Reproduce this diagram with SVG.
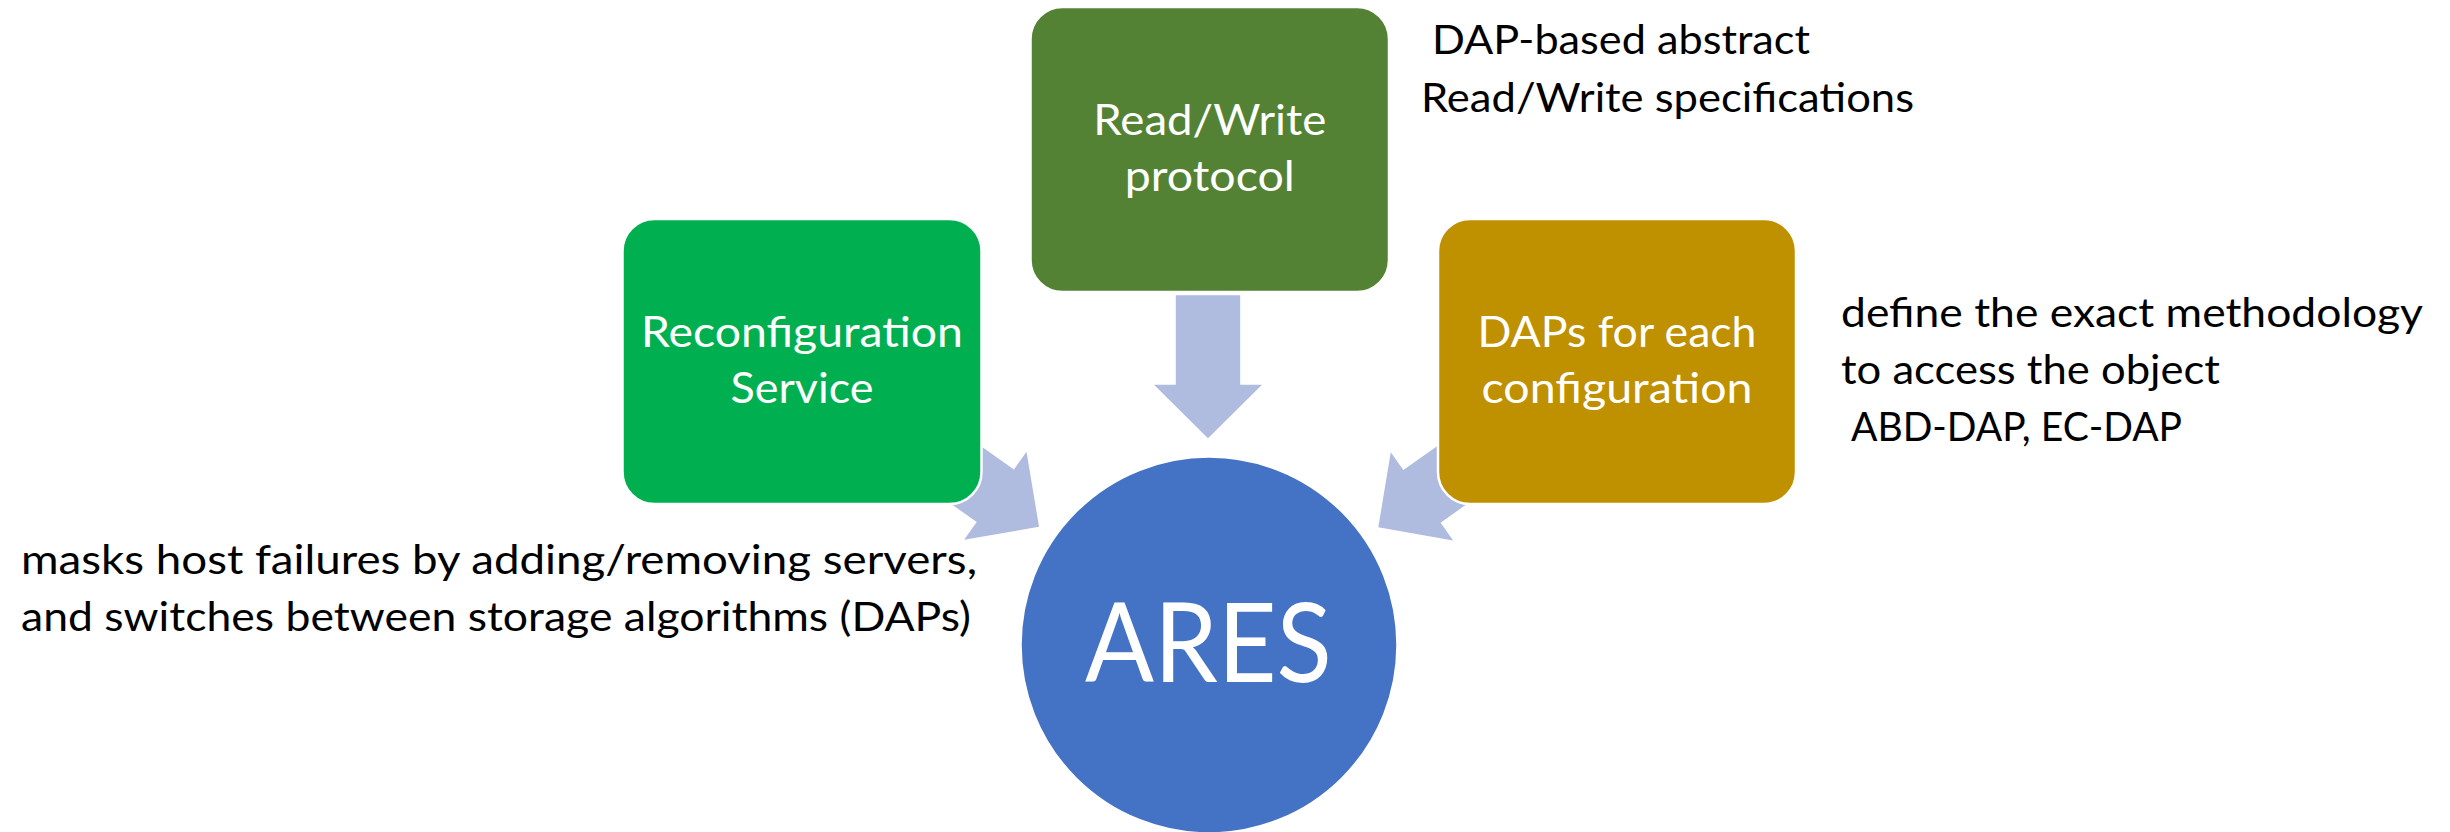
<svg xmlns="http://www.w3.org/2000/svg" xmlns:xlink="http://www.w3.org/1999/xlink" width="2450" height="832" viewBox="0 0 2450 832">
  <style>
    .box { stroke: #ffffff; stroke-width: 2.5; }
    .boxtext { font-family: "Lato", "Liberation Sans", sans-serif; font-size: 43px; fill: #ffffff; text-anchor: middle; }
    .note { font-family: "Lato", "Liberation Sans", sans-serif; font-size: 41px; fill: #000000; }
    .arrow { fill: #AFBCDF; }
  </style>
  <defs>
    <!-- block arrow pointing along +x, tip at origin -->
    <path id="blockArrow" d="M0,0 L-53.5,-54 L-53.5,-32.2 L-143,-32.2 L-143,32.2 L-53.5,32.2 L-53.5,54 Z"/>
  </defs>
  <rect width="2450" height="832" fill="#ffffff"/>

  <g id="connectors" class="arrow">
    <use xlink:href="#blockArrow" href="#blockArrow" transform="translate(1208,438.3) rotate(90)"/>
    <use xlink:href="#blockArrow" href="#blockArrow" transform="translate(1039,526.7) rotate(35.3)"/>
    <use xlink:href="#blockArrow" href="#blockArrow" transform="translate(1378.3,527.3) rotate(144.7)"/>
  </g>

  <g id="node-reconfiguration">
    <rect class="box" x="622.5" y="219" width="359" height="285" rx="32" fill="#00B050"/>
    <text class="boxtext" x="802" y="347" textLength="322" lengthAdjust="spacingAndGlyphs">Reconfiguration</text>
    <text class="boxtext" x="802" y="403" textLength="143" lengthAdjust="spacingAndGlyphs">Service</text>
  </g>

  <g id="node-readwrite">
    <rect class="box" x="1030.5" y="7" width="358.5" height="285" rx="32" fill="#548235"/>
    <text class="boxtext" x="1209.8" y="135" textLength="233" lengthAdjust="spacingAndGlyphs">Read/Write</text>
    <text class="boxtext" x="1209.8" y="191" textLength="170" lengthAdjust="spacingAndGlyphs">protocol</text>
  </g>

  <g id="node-daps">
    <rect class="box" x="1438" y="219" width="358" height="285" rx="32" fill="#BF9000"/>
    <text class="boxtext" x="1617" y="347" textLength="279" lengthAdjust="spacingAndGlyphs">DAPs for each</text>
    <text class="boxtext" x="1617" y="403" textLength="271" lengthAdjust="spacingAndGlyphs">configuration</text>
  </g>

  <g id="node-ares">
    <circle class="box" cx="1209" cy="645" r="188.5" fill="#4472C4"/>
    <text x="1208.4" y="682" font-family="Lato, 'Liberation Sans', sans-serif" font-size="110" fill="#ffffff" text-anchor="middle" textLength="247" lengthAdjust="spacingAndGlyphs">ARES</text>
  </g>

  <g id="note-readwrite">
    <text class="note" x="1432" y="54" textLength="378" lengthAdjust="spacingAndGlyphs">DAP-based abstract</text>
    <text class="note" x="1421" y="112" textLength="493" lengthAdjust="spacingAndGlyphs">Read/Write specifications</text>
  </g>

  <g id="note-daps">
    <text class="note" x="1841" y="327" textLength="582" lengthAdjust="spacingAndGlyphs">define the exact methodology</text>
    <text class="note" x="1841" y="384" textLength="379" lengthAdjust="spacingAndGlyphs">to access the object</text>
    <text class="note" x="1851" y="441" textLength="331" lengthAdjust="spacingAndGlyphs">ABD-DAP, EC-DAP</text>
  </g>

  <g id="note-reconfiguration">
    <text class="note" x="21" y="574" textLength="956" lengthAdjust="spacingAndGlyphs">masks host failures by adding/removing servers,</text>
    <text class="note" x="21" y="631" textLength="950" lengthAdjust="spacingAndGlyphs">and switches between storage algorithms (DAPs)</text>
  </g>
</svg>
